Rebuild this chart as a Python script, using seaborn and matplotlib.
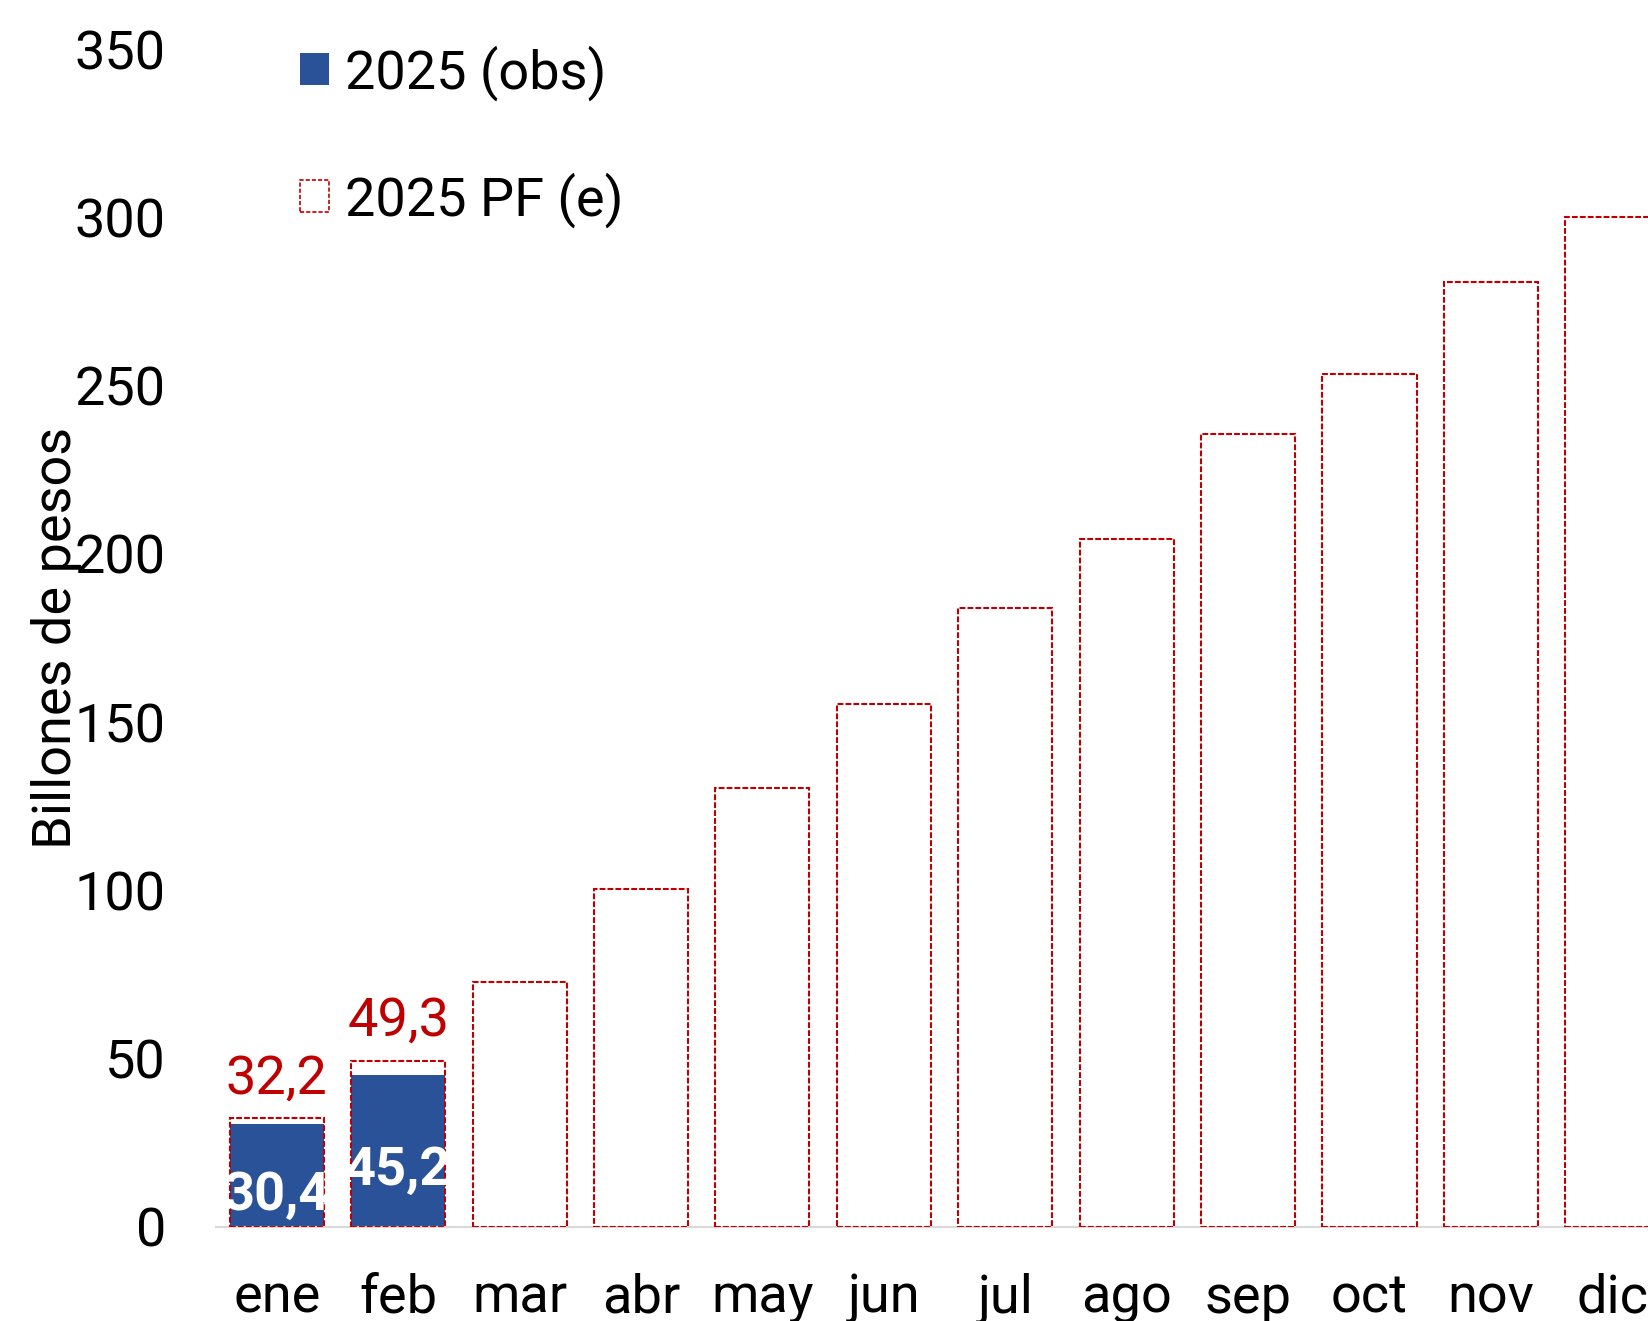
import matplotlib
matplotlib.use('Agg')
import matplotlib.pyplot as plt
import seaborn as sns
import pandas as pd
from matplotlib.patches import Patch

# datos (billones de pesos)
meses = ['ene', 'feb', 'mar', 'abr', 'may', 'jun', 'jul', 'ago', 'sep', 'oct', 'nov', 'dic']
pf_2025 = [32.2, 49.3, 72.6, 100.3, 130.4, 155.5, 183.8, 204.3, 235.6, 253.4, 280.7, 300.1]
obs_meses = ['ene', 'feb']
obs_2025 = [30.4, 45.2]
pf_con_rotulo = ['ene', 'feb']
y_ticks = [0, 50, 100, 150, 200, 250, 300, 350]

azul = '#2A5298'
rojo = '#C00000'
fs = 39

sns.set_style('white')
plt.rcParams['font.family'] = ['Roboto', 'DejaVu Sans']
plt.rcParams.update({'text.color': 'black', 'axes.labelcolor': 'black',
                     'xtick.color': 'black', 'ytick.color': 'black'})

df_pf = pd.DataFrame({'mes': meses, 'valor': pf_2025})
df_obs = pd.DataFrame({'mes': obs_meses, 'valor': obs_2025})

fig = plt.figure(figsize=(16.48, 13.21), dpi=100)
ax = fig.add_axes([0.1311, 0.0714, 0.8841, 0.8913])

# observado (relleno azul)
sns.barplot(data=df_obs, x='mes', y='valor', order=meses, color=azul,
            width=0.775, ax=ax, zorder=2)
n_obs = len(ax.patches)
for p in ax.patches:
    p.set_facecolor(azul)
    p.set_edgecolor('none')

# proyeccion PF (contorno rojo punteado)
sns.barplot(data=df_pf, x='mes', y='valor', order=meses, color=rojo,
            width=0.775, ax=ax, zorder=3)
for p in ax.patches[n_obs:]:
    p.set_facecolor('none')
    p.set_edgecolor(rojo)
    p.set_linewidth(1.5)
    p.set_linestyle((0, (2.8, 1.0)))

# rotulos
for mes, v in zip(obs_meses, obs_2025):
    i = meses.index(mes)
    ax.annotate(f'{v:.1f}'.replace('.', ','), (i, v / 2), xytext=(0, -25),
                textcoords='offset points', ha='center', va='baseline',
                fontsize=fs, fontweight='bold', color='white', zorder=4)
for mes in pf_con_rotulo:
    i = meses.index(mes)
    v = pf_2025[i]
    ax.annotate(f'{v:.1f}'.replace('.', ','), (i, v), xytext=(0, 18),
                textcoords='offset points', ha='center', va='baseline',
                fontsize=fs, color=rojo, zorder=4)

ax.set_xlim(-0.5, len(meses) - 0.5)
ax.set_ylim(0, 350)
ax.set_yticks(y_ticks)
ax.set_xlabel('')
ax.set_ylabel('Billones de pesos', fontsize=fs)
ax.yaxis.set_label_coords(-0.092, 0.5)
ax.tick_params(axis='both', length=0, labelsize=fs)
ax.tick_params(axis='y', pad=36)
ax.tick_params(axis='x', pad=33)

for s in ['top', 'right', 'left']:
    ax.spines[s].set_visible(False)
ax.spines['bottom'].set_color('#D9D9D9')
ax.spines['bottom'].set_linewidth(1.5)

handles = [
    Patch(facecolor=azul, edgecolor='none', label='2025 (obs)'),
    Patch(facecolor='white', edgecolor=rojo, linestyle=(0, (2.5, 1.2)),
          linewidth=1.2, label='2025 PF (e)'),
]
fig.legend(handles=handles, loc='upper left', bbox_to_anchor=(300 / 1648, 0.966),
           frameon=False, fontsize=fs, handlelength=0.53, handleheight=0.53,
           handletextpad=0.3, labelspacing=1.32, borderpad=0, borderaxespad=0)

fig.savefig('out.png', dpi=100)
